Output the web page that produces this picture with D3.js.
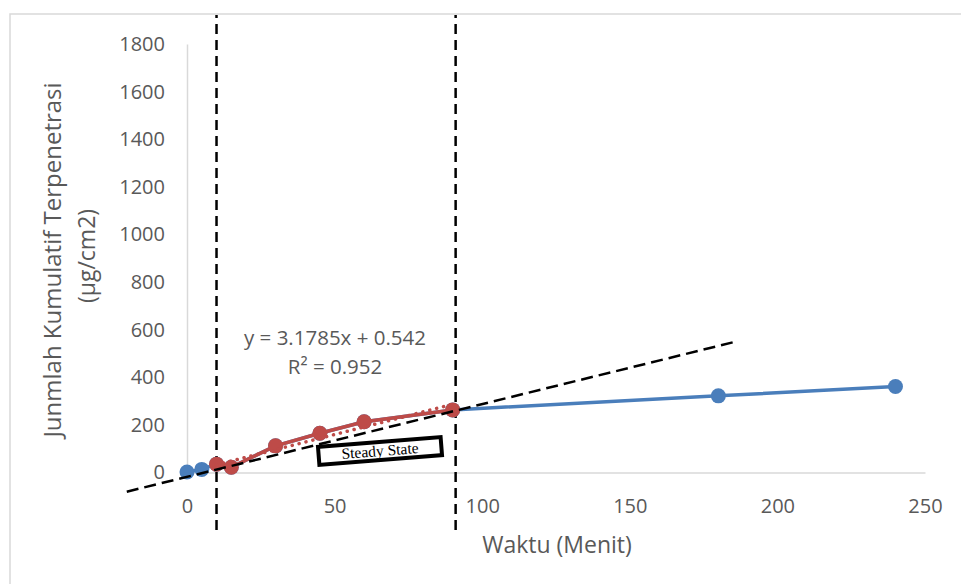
<!DOCTYPE html>
<html>
<head>
<meta charset="utf-8">
<script src="https://cdn.jsdelivr.net/npm/d3@7/dist/d3.min.js"></script>
<style>
  html, body { margin: 0; padding: 0; background: #fff; }
  svg { display: block; }
  text { font-family: "Open Sans", "Noto Sans", sans-serif; fill: #595959; }
</style>
</head>
<body>
<svg id="chart" width="961" height="584"></svg>
<script>
// ---- data ----
const timeAll = [0, 5, 10, 15, 30, 45, 60, 90, 180, 240];
const valuesAll = [2, 13, 35, 22, 112, 165, 213, 263, 322, 361];
const timeSteady = [10, 15, 30, 45, 60, 90];
const valuesSteady = [35, 22, 112, 165, 213, 263];
const trendSlope = 3.1785;
const trendIntercept = 0.542;
const trendR2 = 0.952;
const xTicks = [0, 50, 100, 150, 200, 250];
const yTicks = [0, 200, 400, 600, 800, 1000, 1200, 1400, 1600, 1800];
const tangentX = [-20.4, 185.6];
const tangentY = [-80.6, 548.9];
const boundaryX = [10, 91];
const boundaryY = [-242, 1922];

const svg = d3.select("#chart");
const x = d3.scaleLinear().domain([0, 250]).range([187, 925]);
const y = d3.scaleLinear().domain([0, 1800]).range([472.5, 44]);

// outer border
svg.append("rect").attr("x", 10).attr("y", 14).attr("width", 1000).attr("height", 620)
  .attr("fill", "none").attr("stroke", "#d9d9d9").attr("stroke-width", 1.5);

// axes
const fmt = d3.format("d");
const xAxis = d3.axisBottom(x).tickValues(xTicks).tickFormat(fmt).tickSize(0).tickPadding(26);
const gx = svg.append("g").attr("transform", `translate(0,${y(0)})`).call(xAxis);
gx.select(".domain").attr("stroke", "#d9d9d9").attr("stroke-width", 1.5);
gx.selectAll("text").style("font-size", "20px").attr("fill", "#595959");

const yAxis = d3.axisLeft(y).tickValues(yTicks).tickFormat(fmt).tickSize(0).tickPadding(22);
const gy = svg.append("g").attr("transform", `translate(${x(0)},0)`).call(yAxis);
gy.select(".domain").attr("stroke", "#d9d9d9").attr("stroke-width", 1.5);
gy.selectAll("text").style("font-size", "20px").attr("fill", "#595959");

// axis titles
svg.append("text").attr("x", 557).attr("y", 553).attr("text-anchor", "middle")
  .style("font-size", "23px").text("Waktu (Menit)");
svg.append("text").attr("transform", "translate(61,260) rotate(-90)").attr("text-anchor", "middle")
  .style("font-size", "24px").text("Junmlah Kumulatif Terpenetrasi");
svg.append("text").attr("transform", "translate(95,256) rotate(-90)").attr("text-anchor", "middle")
  .style("font-size", "23px").text("(µg/cm2)");

// boundary vertical dashed lines
boundaryX.forEach(bx => {
  svg.append("line").attr("x1", x(bx)).attr("x2", x(bx))
    .attr("y1", y(boundaryY[0])).attr("y2", y(boundaryY[1]))
    .attr("stroke", "#000").attr("stroke-width", 2.5).attr("stroke-dasharray", "10 6");
});

// blue series
const line = d3.line().x(d => x(d[0])).y(d => y(d[1]));
const blue = "#4a7ebb", red = "#be4b48";
const allPts = timeAll.map((t, i) => [t, valuesAll[i]]);
svg.append("path").datum(allPts).attr("d", line).attr("fill", "none")
  .attr("stroke", blue).attr("stroke-width", 3.5);
svg.selectAll("circle.b").data(allPts).enter().append("circle").attr("class", "b")
  .attr("cx", d => x(d[0])).attr("cy", d => y(d[1])).attr("r", 7.5).attr("fill", blue);

// red series
const sPts = timeSteady.map((t, i) => [t, valuesSteady[i]]);
svg.append("path").datum(sPts).attr("d", line).attr("fill", "none")
  .attr("stroke", red).attr("stroke-width", 3.5);
svg.selectAll("circle.r").data(sPts).enter().append("circle").attr("class", "r")
  .attr("cx", d => x(d[0])).attr("cy", d => y(d[1])).attr("r", 7.5).attr("fill", red);

// trendline
const tx = d3.extent(timeSteady);
svg.append("line")
  .attr("x1", x(tx[0])).attr("y1", y(trendSlope * tx[0] + trendIntercept))
  .attr("x2", x(tx[1])).attr("y2", y(trendSlope * tx[1] + trendIntercept))
  .attr("stroke", red).attr("stroke-width", 3.5).attr("stroke-dasharray", "0.1 7")
  .attr("stroke-linecap", "round");

// tangent dashed line
svg.append("line")
  .attr("x1", x(tangentX[0])).attr("y1", y(tangentY[0]))
  .attr("x2", x(tangentX[1])).attr("y2", y(tangentY[1]))
  .attr("stroke", "#000").attr("stroke-width", 2.5).attr("stroke-dasharray", "12 6");

// equation
svg.append("text").attr("x", 335).attr("y", 345).attr("text-anchor", "middle")
  .style("font-size", "20.5px").text(`y = ${trendSlope}x + ${trendIntercept}`);
svg.append("text").attr("x", 335).attr("y", 374).attr("text-anchor", "middle")
  .style("font-size", "20.5px").text(`R² = ${trendR2}`);

// steady state box
const box = svg.append("g").attr("transform", "translate(380,451) rotate(-4.5)");
box.append("rect").attr("x", -61.5).attr("y", -9).attr("width", 123).attr("height", 18)
  .attr("fill", "#fff").attr("stroke", "#000").attr("stroke-width", 4);
box.append("text").attr("x", 0).attr("y", 5).attr("text-anchor", "middle")
  .style("font-family", "'Liberation Serif', 'DejaVu Serif', serif").style("font-size", "15.5px")
  .style("fill", "#000").text("Steady State");
</script>
</body>
</html>
